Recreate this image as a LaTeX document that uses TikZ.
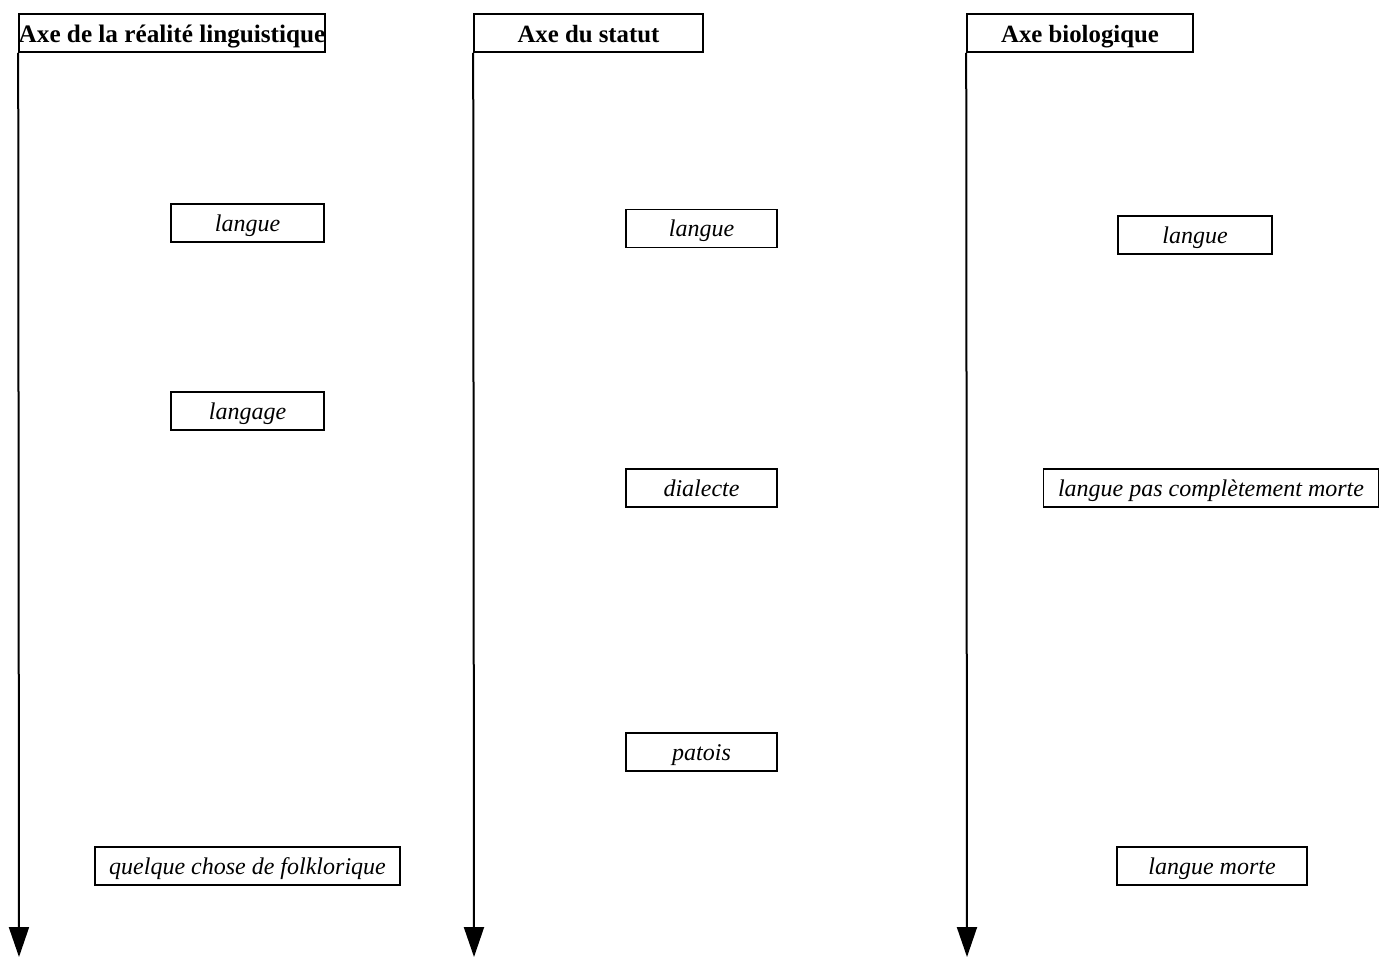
\documentclass[tikz,border=0pt]{standalone}
\usepackage{fontspec}
\setmainfont{Liberation Serif}
\usetikzlibrary{arrows.meta}
\begin{document}
\begin{tikzpicture}[x=0.5pt,y=-0.5pt,
  axisline/.style={line width=1pt,-{Triangle[length=15pt,width=10pt]}},
  header/.style={draw,line width=0.8pt,minimum height=19pt,inner sep=0pt,
    text height=9.5pt,text depth=0.5pt,
    font=\bfseries\fontsize{12.4}{14}\selectfont},
  term/.style={draw,line width=0.8pt,minimum height=19pt,inner sep=0pt,
    text height=9pt,text depth=1pt,
    font=\itshape\fontsize{12}{14}\selectfont}]
\useasboundingbox (0,0) rectangle (1379,958);

% column headers
\node[header,minimum width=153pt] (h1) at (172,33)
  {\makebox[0pt]{\fontsize{12.6}{15}\selectfont Axe de la réalité linguistique}};
\node[header,minimum width=114.5pt] (h2) at (588.5,33) {Axe du statut};
\node[header,minimum width=113pt] (h3) at (1080,33) {Axe biologique};

% axes
\coordinate (e1) at (19,957);
\coordinate (e2) at (474,957);
\coordinate (e3) at (967,957);
\draw[axisline] (h1.south west) -- (e1);
\draw[axisline] (h2.south west) -- (e2);
\draw[axisline] (h3.south west) -- (e3);

% axis of linguistic reality
\node[term,minimum width=76.5pt] (a1) at (247.5,223) {langue};
\node[term,minimum width=76.5pt] (a2) at (247.5,411) {langage};
\node[term,minimum width=152.5pt] (a3) at (247.5,866) {quelque chose de folklorique};

% axis of status
\node[term,minimum width=75.5pt] (b1) at (701.5,228.5) {langue};
\node[term,minimum width=75.5pt] (b2) at (701.5,488) {dialecte};
\node[term,minimum width=75.5pt] (b3) at (701.5,752) {patois};

% biological axis
\node[term,minimum width=77pt] (c1) at (1195,235) {langue};
\node[term,minimum width=167.5pt] (c2) at (1211,488) {langue pas complètement morte};
\node[term,minimum width=95pt] (c3) at (1212,866) {langue morte};
\end{tikzpicture}
\end{document}
